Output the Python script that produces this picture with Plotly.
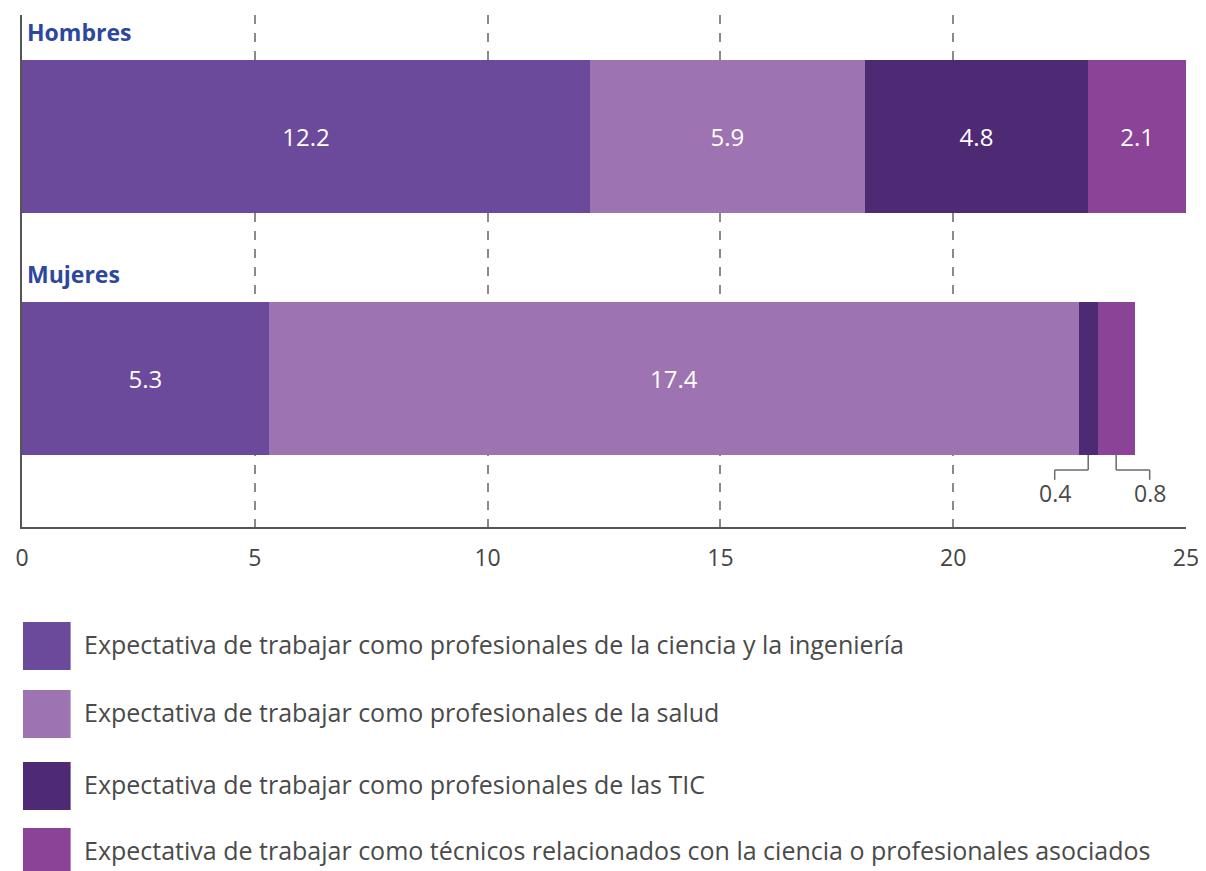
import plotly.graph_objects as go

groups = ["Hombres", "Mujeres"]
series_names = [
    "Expectativa de trabajar como profesionales de la ciencia y la ingeniería",
    "Expectativa de trabajar como profesionales de la salud",
    "Expectativa de trabajar como profesionales de las TIC",
    "Expectativa de trabajar como técnicos relacionados con la ciencia o profesionales asociados",
]
ciencia = [12.2, 5.3]
salud = [5.9, 17.4]
tic = [4.8, 0.4]
tecnicos = [2.1, 0.8]
x_ticks = [0, 5, 10, 15, 20, 25]

colors = ["#6B4A9B", "#9D74B1", "#4F2A74", "#8A4396"]
values = [ciencia, salud, tic, tecnicos]
FONT = "Open Sans"

# page offset (browser body margin) compensation
OFF = 8
FIG_W, FIG_H = 1206 - OFF, 871 - OFF
PLOT_L, PLOT_R, PLOT_T, PLOT_B = 17 - OFF, 1190 - OFF, 15 - OFF, 527 - OFF
PW = PLOT_R - PLOT_L
PH = PLOT_B - PLOT_T

fig = go.Figure()
for name, vals, col in zip(series_names, values, colors):
    texts = [f"{v:.1f}" if v >= 1 else "" for v in vals]
    fig.add_trace(go.Bar(
        y=groups, x=vals, name=name, orientation="h",
        marker=dict(color=col, line=dict(width=0)),
        text=texts, textposition="inside", insidetextanchor="middle",
        textfont=dict(color="white", size=24, family=FONT),
        width=0.632, showlegend=False, hoverinfo="x+name",
    ))

# Callouts for the small Mujeres segments
m = 1
base_tic = ciencia[m] + salud[m]
c_tic = base_tic + tic[m] / 2
c_tec = base_tic + tic[m] + tecnicos[m] / 2
bar_bottom = 1 + 0.632 / 2
y_mid = bar_bottom + 0.062
y_end = bar_bottom + 0.103
line_style = dict(color="#6b6b6b", width=1.5)
for cx, dx, val in [(c_tic, -0.72, tic[m]), (c_tec, 0.72, tecnicos[m])]:
    fig.add_shape(type="line", x0=cx, x1=cx, y0=bar_bottom, y1=y_mid, xref="x", yref="y", line=line_style)
    fig.add_shape(type="line", x0=cx, x1=cx + dx, y0=y_mid, y1=y_mid, xref="x", yref="y", line=line_style)
    fig.add_shape(type="line", x0=cx + dx, x1=cx + dx, y0=y_mid, y1=y_end, xref="x", yref="y", line=line_style)
    fig.add_annotation(x=cx + dx, y=y_end, xref="x", yref="y", text=f"{val:.1f}",
                       showarrow=False, yanchor="top", xanchor="center", yshift=5,
                       font=dict(size=23, color="#4a4a4a", family=FONT))

# Group labels
for g, yy in zip(groups, [0 - 0.632 / 2, 1 - 0.632 / 2]):
    fig.add_annotation(x=0.07, y=yy, xref="x", yref="y", text=f"<b>{g}</b>", showarrow=False,
                       xanchor="left", yanchor="bottom", yshift=10,
                       font=dict(size=23, color="#2D47A0", family=FONT))

# Custom legend below the chart
def px_x(p):
    return (p - OFF - PLOT_L) / PW
def py(p):
    return (PLOT_B + OFF - p) / PH
leg_tops = [622, 690, 762, 828]
for name, col, top in zip(series_names, colors, leg_tops):
    fig.add_shape(type="rect", xref="paper", yref="paper", x0=px_x(18), x1=px_x(66),
                  y0=py(top + 48), y1=py(top), fillcolor=col, line=dict(width=0))
    fig.add_annotation(xref="paper", yref="paper", x=px_x(77), y=py(top + 22), text=name,
                       showarrow=False, xanchor="left", yanchor="middle",
                       font=dict(size=25, color="#4a4a4a", family=FONT))

fig.update_layout(
    barmode="stack",
    width=FIG_W, height=FIG_H,
    margin=dict(l=PLOT_L, r=FIG_W - PLOT_R, t=PLOT_T, b=FIG_H - PLOT_B, pad=0),
    paper_bgcolor="white", plot_bgcolor="white",
    font=dict(family=FONT),
    xaxis=dict(range=[0, 25], tickvals=x_ticks, showgrid=True, gridcolor="#8a8a8a",
               griddash="dash", gridwidth=1.5, zeroline=False,
               showline=True, linecolor="#555555", linewidth=2,
               tickfont=dict(size=23, color="#444444", family=FONT),
               ticks="", ticklabelstandoff=9, fixedrange=True),
    yaxis=dict(range=[1.614, -0.502], showticklabels=False, showgrid=False, zeroline=False,
               showline=True, linecolor="#555555", linewidth=2, ticks="", fixedrange=True),
)

fig.write_html("out.html")
